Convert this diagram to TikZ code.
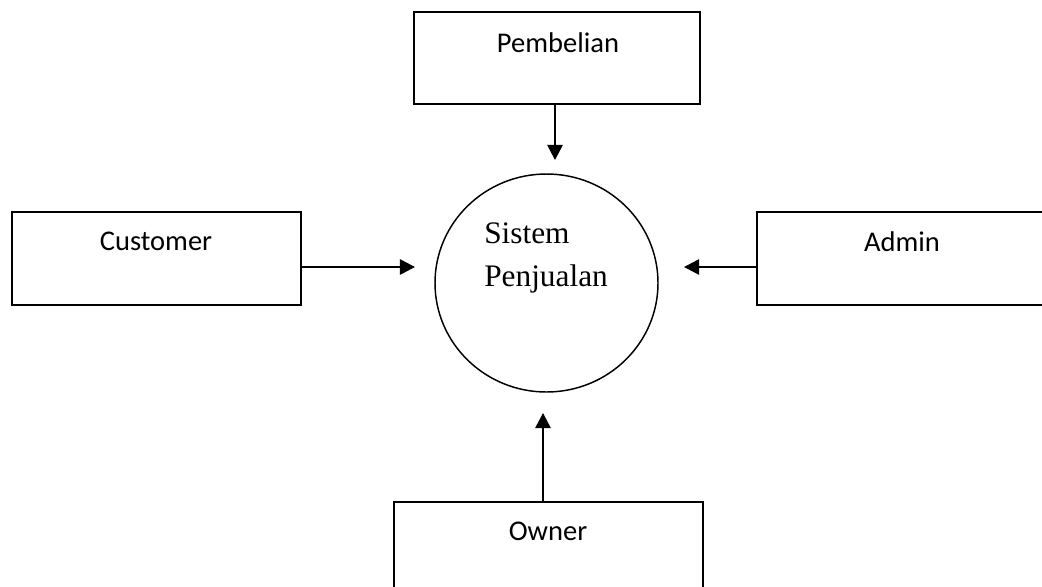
\documentclass[tikz,border=0pt]{standalone}
\usepackage{fontspec}
\setmainfont{Liberation Serif}
\newfontfamily\boxfont{Carlito}
\usetikzlibrary{shapes.geometric,arrows.meta}
\begin{document}
\begin{tikzpicture}[x=0.75pt,y=-0.75pt,
  entity/.style={draw,line width=1.3pt,rectangle,inner sep=0pt},
  boxlabel/.style={inner sep=0pt,anchor=base,font=\boxfont\fontsize{21.4pt}{25pt}\selectfont},
  proclabel/.style={inner sep=0pt,anchor=base west,font=\fontsize{23.5pt}{28pt}\selectfont},
  flow/.style={line width=1.3pt,-{Triangle[length=11.3pt,width=11.5pt]}}]
\useasboundingbox (0,0) rectangle (1042,586);
\clip (0,0) rectangle (1042,586);

% process bubble
\node[draw,line width=1.1pt,ellipse,minimum width=167.25pt,minimum height=163.5pt,inner sep=0pt] (proc) at (546.5,283) {};
\node[proclabel] (procA) at (484,243) {Sistem};
\node[proclabel] (procB) at (484,286) {Penjualan};

% external entities
\node[entity,minimum width=214.5pt,minimum height=69pt] (pemb) at (557,58) {};
\node[boxlabel] (pembT) at (558,52) {Pembelian};

\node[entity,minimum width=216.75pt,minimum height=69.75pt] (cust) at (156.5,258.5) {};
\node[boxlabel] (custT) at (156,250) {Customer};

\node[entity,minimum width=216.75pt,minimum height=69.75pt] (admin) at (901.5,258.5) {};
\node[boxlabel] (adminT) at (902,251) {Admin};

\node[entity,minimum width=231.75pt,minimum height=69pt] (owner) at (548.5,548) {};
\node[boxlabel] (ownerT) at (548,540) {Owner};

% arrow tips, short of the bubble
\coordinate (tipP) at (555,160);
\coordinate (tipC) at (415,267);
\coordinate (tipA) at (684,267);
\coordinate (tipO) at (543,413);

% data flows
\draw[flow] (pemb.south -| tipP) -- (tipP);
\draw[flow] (cust.east |- tipC) -- (tipC);
\draw[flow] (admin.west |- tipA) -- (tipA);
\draw[flow] (owner.north -| tipO) -- (tipO);
\end{tikzpicture}
\end{document}
